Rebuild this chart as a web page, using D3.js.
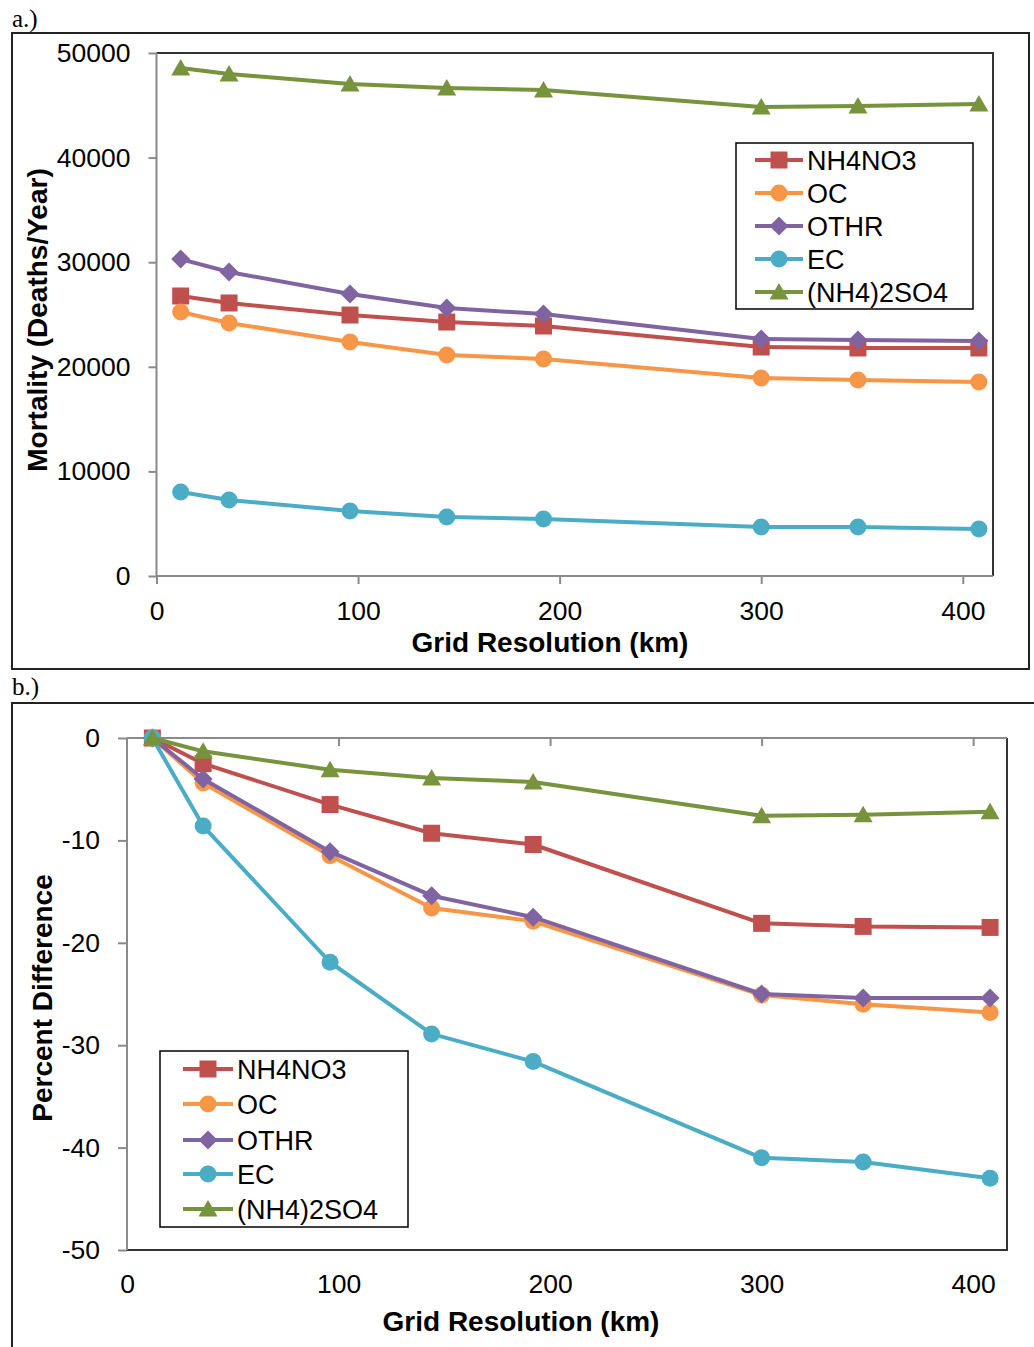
<!DOCTYPE html>
<html>
<head>
<meta charset="utf-8">
<script src="https://cdn.jsdelivr.net/npm/d3@7"></script>
<style>
  body { margin: 0; background: #fff; }
  text { font-family: "Liberation Sans", Arial, sans-serif; fill: #000; }
</style>
</head>
<body>
<div id="chart"></div>
<script>
// Grid resolutions (km)
var gridRes = [12, 36, 96, 144, 192, 300, 348, 408];

// Series names and colours
var seriesNames = ["NH4NO3", "OC", "OTHR", "EC", "(NH4)2SO4"];
var seriesColors = ["#C0504D", "#F79646", "#8064A2", "#4BACC6", "#77933C"];
var seriesShapes = ["square", "circle", "diamond", "circle", "triangle"];

// a.) Mortality (Deaths/Year)
var mortNH4NO3 = [26770, 26100, 24950, 24280, 23900, 21890, 21800, 21800];
var mortOC     = [25240, 24190, 22370, 21130, 20750, 18930, 18740, 18550];
var mortOTHR   = [30300, 29060, 26960, 25620, 25050, 22660, 22560, 22470];
var mortEC     = [8030, 7270, 6210, 5640, 5450, 4680, 4680, 4490];
var mortSO4    = [48570, 48000, 47040, 46650, 46460, 44840, 44930, 45120];

// b.) Percent difference
var pctNH4NO3 = [0, -2.5, -6.5, -9.3, -10.4, -18.1, -18.4, -18.5];
var pctOC     = [0, -4.4, -11.5, -16.6, -17.9, -25.1, -26.0, -26.8];
var pctOTHR   = [0, -4.0, -11.1, -15.4, -17.5, -25.0, -25.4, -25.4];
var pctEC     = [0, -8.6, -21.9, -28.9, -31.6, -41.0, -41.4, -43.0];
var pctSO4    = [0, -1.3, -3.1, -3.9, -4.3, -7.6, -7.5, -7.2];

var xTicks = [0, 100, 200, 300, 400];
var yTicksA = [0, 10000, 20000, 30000, 40000, 50000];
var yTicksB = [-50, -40, -30, -20, -10, 0];

var svg = d3.select("#chart").append("svg")
    .attr("width", 1034)
    .attr("height", 1347);

var axisGray = "#8a8a8a";
var borderCol = "#333";

// marker path builder
function markerPath(shape) {
    if (shape == "square") return "M-8.5,-8.5H8.5V8.5H-8.5Z";
    if (shape == "diamond") return "M0,-9.5L9.5,0L0,9.5L-9.5,0Z";
    if (shape == "triangle") return "M0,-9L9.5,7.5H-9.5Z";
    return d3.symbol().type(d3.symbolCircle).size(Math.PI * 8.5 * 8.5)();
}

function drawSeries(g, xScale, yScale, seriesData) {
    seriesData.forEach(function(vals, i) {
        var pts = gridRes.map((x, j) => [x, vals[j]]);
        var line = d3.line().x(d => xScale(d[0])).y(d => yScale(d[1]));
        g.append("path")
            .datum(pts)
            .attr("d", line)
            .attr("fill", "none")
            .attr("stroke", seriesColors[i])
            .attr("stroke-width", 4)
            .attr("stroke-linejoin", "round");
        g.selectAll(null)
            .data(pts)
            .enter()
            .append("path")
            .attr("transform", d => `translate(${xScale(d[0])},${yScale(d[1])})`)
            .attr("d", markerPath(seriesShapes[i]))
            .attr("fill", seriesColors[i]);
    });
}

// legend: box, line start/end offsets, text offset, row positions
function drawLegend(g, x0, y0, w, h, lx1, lx2, tx, rowY) {
    g.append("rect")
        .attr("x", x0).attr("y", y0)
        .attr("width", w).attr("height", h)
        .attr("fill", "#fff")
        .attr("stroke", "#000")
        .attr("stroke-width", 1.5);
    seriesNames.forEach(function(name, i) {
        var yy = rowY[i];
        g.append("line")
            .attr("x1", x0 + lx1).attr("x2", x0 + lx2)
            .attr("y1", yy).attr("y2", yy)
            .attr("stroke", seriesColors[i])
            .attr("stroke-width", 4);
        g.append("path")
            .attr("transform", `translate(${x0 + (lx1 + lx2) / 2},${yy})`)
            .attr("d", markerPath(seriesShapes[i]))
            .attr("fill", seriesColors[i]);
        g.append("text")
            .attr("x", x0 + tx).attr("y", yy)
            .attr("dy", "0.36em")
            .attr("font-size", "27px")
            .text(name);
    });
}

function styleAxis(axisG) {
    axisG.select(".domain").remove();
    axisG.selectAll("line").attr("stroke", axisGray).attr("stroke-width", 2);
    axisG.selectAll("text")
        .attr("font-size", "26.5px")
        .attr("font-family", "Liberation Sans, Arial, sans-serif")
        .attr("fill", "#000");
}

var plainFmt = d => String(d);

// ---------- Panel a ----------
var gA = svg.append("g");

svg.append("text")
    .attr("x", 12).attr("y", 27)
    .style("font-family", "Liberation Serif, Times New Roman, serif")
    .attr("font-size", "25px")
    .text("a.)");

gA.append("rect")
    .attr("x", 12).attr("y", 33)
    .attr("width", 1017).attr("height", 636)
    .attr("fill", "none")
    .attr("stroke", "#222")
    .attr("stroke-width", 2);

var xA = d3.scaleLinear().domain([0, 415]).range([156.5, 993]);
var yA = d3.scaleLinear().domain([0, 50000]).range([576, 53]);

// plot borders (top/right)
gA.append("path")
    .attr("d", `M${xA(0)},${yA(50000)}H${xA(415)}V${yA(0)}`)
    .attr("fill", "none")
    .attr("stroke", borderCol)
    .attr("stroke-width", 2);

var yAxisA = gA.append("g")
    .attr("transform", `translate(${xA(0)},0)`)
    .call(d3.axisLeft(yA).tickValues(yTicksA).tickSize(8).tickPadding(18).tickFormat(plainFmt));
styleAxis(yAxisA);

var xAxisA = gA.append("g")
    .attr("transform", `translate(0,${yA(0)})`)
    .call(d3.axisBottom(xA).tickValues(xTicks).tickSize(8).tickPadding(17).tickFormat(plainFmt));
styleAxis(xAxisA);

gA.append("line")
    .attr("x1", xA(0)).attr("x2", xA(0))
    .attr("y1", yA(50000)).attr("y2", yA(0) + 1)
    .attr("stroke", axisGray).attr("stroke-width", 2);
gA.append("line")
    .attr("x1", xA(0)).attr("x2", xA(415))
    .attr("y1", yA(0)).attr("y2", yA(0))
    .attr("stroke", axisGray).attr("stroke-width", 2);

drawSeries(gA, xA, yA, [mortNH4NO3, mortOC, mortOTHR, mortEC, mortSO4]);
drawLegend(gA, 736, 143, 237, 166, 19, 67, 71, [160, 193, 226, 259, 292]);

gA.append("text")
    .attr("transform", "translate(37,320) rotate(-90)")
    .attr("text-anchor", "middle")
    .attr("dy", "0.36em")
    .attr("font-size", "28px")
    .attr("font-weight", "bold")
    .text("Mortality (Deaths/Year)");

gA.append("text")
    .attr("x", 550).attr("y", 652)
    .attr("text-anchor", "middle")
    .attr("font-size", "28px")
    .attr("font-weight", "bold")
    .text("Grid Resolution (km)");

// ---------- Panel b ----------
var gB = svg.append("g");

svg.append("text")
    .attr("x", 12).attr("y", 695)
    .style("font-family", "Liberation Serif, Times New Roman, serif")
    .attr("font-size", "25px")
    .text("b.)");

gB.append("path")
    .attr("d", "M12,1347V703H1034")
    .attr("fill", "none")
    .attr("stroke", "#222")
    .attr("stroke-width", 2);

var xB = d3.scaleLinear().domain([0, 416]).range([127, 1007]);
var yB = d3.scaleLinear().domain([-50, 0]).range([1250, 738]);

// plot borders (right/bottom)
gB.append("path")
    .attr("d", `M${xB(416)},${yB(0)}V${yB(-50)}H${xB(0)}`)
    .attr("fill", "none")
    .attr("stroke", borderCol)
    .attr("stroke-width", 2);

var yAxisB = gB.append("g")
    .attr("transform", `translate(${xB(0)},0)`)
    .call(d3.axisLeft(yB).tickValues(yTicksB).tickSize(9).tickPadding(18).tickFormat(plainFmt));
styleAxis(yAxisB);

// x axis crosses at 0 (top), labels sit low
var xAxisB = gB.append("g")
    .attr("transform", `translate(0,${yB(0)})`)
    .call(d3.axisBottom(xB).tickValues(xTicks.filter(d => d > 0)).tickSize(8).tickFormat(""));
styleAxis(xAxisB);

var xLabelsB = gB.append("g")
    .attr("transform", `translate(0,${yB(-50)})`)
    .call(d3.axisBottom(xB).tickValues(xTicks).tickSize(0).tickPadding(24).tickFormat(plainFmt));
styleAxis(xLabelsB);

gB.append("line")
    .attr("x1", xB(0)).attr("x2", xB(0))
    .attr("y1", yB(0)).attr("y2", yB(-50))
    .attr("stroke", axisGray).attr("stroke-width", 2);
gB.append("line")
    .attr("x1", xB(0)).attr("x2", xB(416))
    .attr("y1", yB(0)).attr("y2", yB(0))
    .attr("stroke", axisGray).attr("stroke-width", 2);

drawSeries(gB, xB, yB, [pctNH4NO3, pctOC, pctOTHR, pctEC, pctSO4]);
drawLegend(gB, 160, 1051, 248, 176, 23, 73, 77, [1069, 1104, 1140, 1174, 1209]);

gB.append("text")
    .attr("transform", "translate(42,998) rotate(-90)")
    .attr("text-anchor", "middle")
    .attr("dy", "0.36em")
    .attr("font-size", "28px")
    .attr("font-weight", "bold")
    .text("Percent Difference");

gB.append("text")
    .attr("x", 521).attr("y", 1331)
    .attr("text-anchor", "middle")
    .attr("font-size", "28px")
    .attr("font-weight", "bold")
    .text("Grid Resolution (km)");
</script>
</body>
</html>
